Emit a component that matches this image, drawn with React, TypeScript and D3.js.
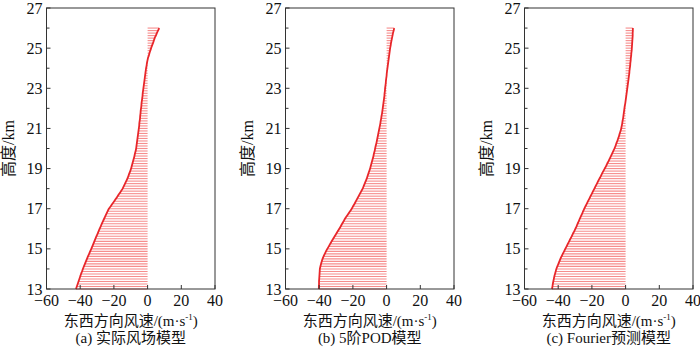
import * as d3 from 'd3';

// sampling grid of the wind profiles (km)
const HEIGHT_START = 13;
const HEIGHT_STEP = 0.125;

// east-west wind speed (m/s) at each sampled height, bottom to top
const ACTUAL = [
  -42.5, -42.0, -41.5, -41.0, -40.5, -40.0, -39.5, -38.9, -38.4, -37.8, -37.2, -36.6, -36.0,
  -35.4, -34.7, -34.1, -33.4, -32.8, -32.2, -31.6, -31.0, -30.4, -29.7, -29.1, -28.5,
  -27.8, -27.2, -26.5, -25.8, -25.1, -24.4, -23.7, -23.0, -21.9, -20.9, -19.8, -18.8,
  -17.8, -16.8, -15.8, -14.8, -14.1, -13.4, -12.7, -12.0, -11.4, -10.9, -10.3, -9.8,
  -9.4, -9.0, -8.6, -8.2, -7.8, -7.5, -7.1, -6.8, -6.6, -6.4, -6.2, -6.0,
  -5.8, -5.6, -5.4, -5.2, -5.0, -4.9, -4.7, -4.5, -4.4, -4.2, -4.1, -3.9,
  -3.7, -3.6, -3.4, -3.2, -3.0, -2.9, -2.7, -2.5, -2.3, -2.1, -1.9, -1.7,
  -1.5, -1.3, -1.1, -0.9, -0.6, -0.4, -0.1, 0.2, 0.7, 1.1, 1.6, 2.1,
  2.6, 3.2, 3.7, 4.2, 4.9, 5.5, 6.2, 6.9,
];

const POD5 = [
  -40.2, -40.2, -40.1, -40.1, -40.0, -39.9, -39.8, -39.7, -39.6, -39.3, -38.9, -38.5, -38.0,
  -37.4, -36.7, -36.0, -35.2, -34.3, -33.5, -32.6, -31.7, -30.8, -29.9, -29.0, -28.1,
  -27.2, -26.4, -25.5, -24.7, -23.7, -22.7, -21.7, -20.7, -19.9, -19.0, -18.2, -17.4,
  -16.6, -15.8, -15.0, -14.2, -13.6, -13.0, -12.4, -11.8, -11.3, -10.8, -10.3, -9.8,
  -9.4, -9.0, -8.6, -8.2, -7.8, -7.5, -7.1, -6.8, -6.5, -6.1, -5.8, -5.5,
  -5.2, -4.9, -4.6, -4.3, -4.0, -3.7, -3.5, -3.2, -3.0, -2.7, -2.5, -2.3,
  -2.1, -1.9, -1.7, -1.5, -1.3, -1.2, -1.0, -0.9, -0.7, -0.5, -0.4, -0.2,
  0.0, 0.1, 0.3, 0.5, 0.7, 0.9, 1.1, 1.3, 1.5, 1.7, 1.9, 2.1,
  2.4, 2.6, 2.9, 3.2, 3.5, 3.8, 4.2, 4.5,
];

const FOURIER = [
  -43.7, -43.4, -43.2, -42.9, -42.6, -42.3, -41.9, -41.5, -41.1, -40.5, -39.9, -39.3, -38.7,
  -38.0, -37.3, -36.5, -35.8, -35.0, -34.3, -33.5, -32.8, -32.0, -31.3, -30.5, -29.8,
  -29.1, -28.5, -27.8, -27.2, -26.5, -25.8, -25.2, -24.5, -23.8, -23.0, -22.3, -21.5,
  -20.8, -20.0, -19.3, -18.5, -17.8, -17.0, -16.3, -15.5, -14.7, -14.0, -13.2, -12.4,
  -11.6, -10.9, -10.1, -9.4, -8.7, -8.0, -7.3, -6.6, -6.0, -5.5, -4.9, -4.4,
  -3.9, -3.5, -3.0, -2.6, -2.3, -2.0, -1.8, -1.5, -1.3, -1.1, -0.9, -0.7,
  -0.5, -0.2, 0.0, 0.2, 0.4, 0.6, 0.8, 1.0, 1.2, 1.4, 1.6, 1.8,
  2.0, 2.2, 2.3, 2.5, 2.7, 2.8, 3.0, 3.1, 3.3, 3.4, 3.6, 3.7,
  3.8, 3.9, 4.0, 4.1, 4.2, 4.2, 4.3, 4.3,
];

const CAPTIONS = ['(a) 实际风场模型', '(b) 5阶POD模型', '(c) Fourier预测模型'];
const SERIES = [ACTUAL, POD5, FOURIER];

const X_TICKS = [-60, -40, -20, 0, 20, 40];
const Y_TICKS = [13, 15, 17, 19, 21, 23, 25, 27];
const Y_MINOR = [14, 16, 18, 20, 22, 24, 26];

const W = 700;
const H = 352;
const PANEL_LEFT = [46.5, 285.5, 524.5];
const PANEL_W = 168.5;
const TOP = 8;
const BOTTOM = 289;

const AXIS = '#333';
const FONT = '"Liberation Serif", "Times New Roman", "Noto Sans CJK SC", serif';
const fmt = d3.format('');

function Panel({ left, values, caption }: { left: number; values: number[]; caption: string }) {
  const x = d3.scaleLinear().domain([-60, 40]).range([left, left + PANEL_W]);
  const y = d3.scaleLinear().domain([13, 27]).range([BOTTOM, TOP]);
  const pts = values.map((v, i) => ({ h: HEIGHT_START + i * HEIGHT_STEP, v }));
  const line = d3.line<{ h: number; v: number }>().x((d) => x(d.v)).y((d) => y(d.h)).curve(d3.curveMonotoneY);
  const cx = left + PANEL_W / 2;

  return (
    <g>
      {/* profile bars */}
      {pts.map((d, i) => (
        <line key={i} x1={x(0)} x2={x(d.v)} y1={y(d.h)} y2={y(d.h)}
          stroke="#f25c5c" strokeOpacity={0.7} strokeWidth={1.1} />
      ))}
      <path d={line(pts) || ''} fill="none" stroke="#e8262a" strokeWidth={1.8} />

      {/* frame */}
      <rect x={left} y={TOP} width={PANEL_W} height={BOTTOM - TOP} fill="none" stroke={AXIS} strokeWidth={1} />

      {/* y ticks */}
      {Y_TICKS.map((t) => (
        <g key={t}>
          <line x1={left} x2={left + 4} y1={y(t)} y2={y(t)} stroke={AXIS} />
          <text x={left - 4} y={y(t)} dy="0.35em" textAnchor="end" fontSize={16} fontFamily={FONT} fill="#111">{t}</text>
        </g>
      ))}
      {Y_MINOR.map((t) => (
        <line key={t} x1={left} x2={left + 3} y1={y(t)} y2={y(t)} stroke={AXIS} />
      ))}

      {/* x ticks */}
      {X_TICKS.map((t) => (
        <g key={t}>
          <line x1={x(t)} x2={x(t)} y1={BOTTOM} y2={BOTTOM - 4} stroke={AXIS} />
          <text x={x(t)} y={BOTTOM + 17} textAnchor="middle" fontSize={16} fontFamily={FONT} fill="#111">{fmt(t)}</text>
        </g>
      ))}

      <text transform={`translate(${left - 38},${(TOP + BOTTOM) / 2}) rotate(-90)`} dy="0.35em"
        textAnchor="middle" fontSize={16} fontFamily={FONT} fill="#111">高度/km</text>

      <text x={cx} y={326} textAnchor="middle" fontSize={15} fontFamily={FONT} fill="#111">
        东西方向风速/(m·s<tspan fontSize={9} dy={-6}>-1</tspan><tspan dy={6}>)</tspan>
      </text>
      <text x={cx} y={343} textAnchor="middle" fontSize={15} fontFamily={FONT} fill="#111">{caption}</text>
    </g>
  );
}

export default function App() {
  return (
    <svg width={W} height={H} style={{ position: 'absolute', left: 0, top: 0, background: '#fff' }}>
      {SERIES.map((vals, i) => (
        <Panel key={i} left={PANEL_LEFT[i]} values={vals} caption={CAPTIONS[i]} />
      ))}
    </svg>
  );
}
